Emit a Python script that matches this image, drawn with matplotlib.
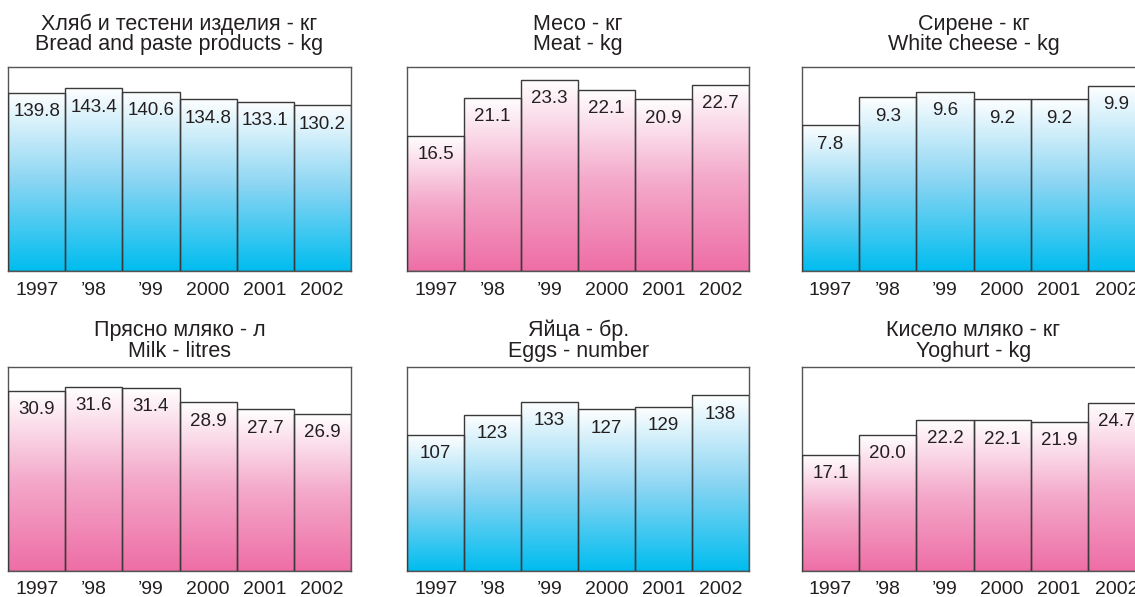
import numpy as np
import matplotlib
matplotlib.use('Agg')
import matplotlib.pyplot as plt
from matplotlib.colors import LinearSegmentedColormap

plt.rcParams['font.family'] = ['Liberation Sans', 'DejaVu Sans']

years = ['1997', '\u201998', '\u201999', '2000', '2001', '2002']

bread = [139.8, 143.4, 140.6, 134.8, 133.1, 130.2]
meat = [16.5, 21.1, 23.3, 22.1, 20.9, 22.7]
cheese = [7.8, 9.3, 9.6, 9.2, 9.2, 9.9]
milk = [30.9, 31.6, 31.4, 28.9, 27.7, 26.9]
eggs = [107, 123, 133, 127, 129, 138]
yoghurt = [17.1, 20.0, 22.2, 22.1, 21.9, 24.7]

titles_bg = ['Хляб и тестени изделия - кг', 'Месо - кг', 'Сирене - кг',
             'Прясно мляко - л', 'Яйца - бр.', 'Кисело мляко - кг']
titles_en = ['Bread and paste products - kg', 'Meat - kg', 'White cheese - kg',
             'Milk - litres', 'Eggs - number', 'Yoghurt - kg']
labels = [['139.8', '143.4', '140.6', '134.8', '133.1', '130.2'],
          ['16.5', '21.1', '23.3', '22.1', '20.9', '22.7'],
          ['7.8', '9.3', '9.6', '9.2', '9.2', '9.9'],
          ['30.9', '31.6', '31.4', '28.9', '27.7', '26.9'],
          ['107', '123', '133', '127', '129', '138'],
          ['17.1', '20.0', '22.2', '22.1', '21.9', '24.7']]

series = [bread, meat, cheese, milk, eggs, yoghurt]
ytops = [160, 24.8, 10.9, 35, 160.6, 30]

blue = LinearSegmentedColormap.from_list('b', ['#00bdef', '#8ad5f3', '#ffffff'])
pink = LinearSegmentedColormap.from_list('p', ['#ee6ea6', '#f4a9ca', '#ffffff'])
cmaps = [blue, pink, blue, pink, blue, pink]

W, H = 1135, 597
fig = plt.figure(figsize=(W / 100, H / 100), dpi=100)

# axes boxes in pixels: left, top, width, height
lefts = [8.3, 407.3, 802.0]
tops = [67.3, 366.7]
widths = [342.4, 341.7, 343.0]
axh = 204.2
title_off = [(26.9, 12.5), (22.0, 7.0)]

grad = np.linspace(0, 1, 256).reshape(-1, 1)

for k in range(6):
    r, c = divmod(k, 3)
    x0, y0 = lefts[c], tops[r]
    ax = fig.add_axes([x0 / W, (H - y0 - axh) / H, widths[c] / W, axh / H])
    vals = series[k]
    x = np.arange(len(vals))
    bars = ax.bar(x, vals, width=1.0, facecolor='none', edgecolor='#3a3a3a',
                  linewidth=1.0, zorder=3)
    for b, v in zip(bars, vals):
        ax.imshow(grad, cmap=cmaps[k], extent=(b.get_x(), b.get_x() + 1, 0, v),
                  aspect='auto', origin='lower', zorder=2, interpolation='bilinear')
    ax.set_xlim(-0.5, len(vals) - 0.5)
    ax.set_ylim(0, ytops[k])
    for xi, v, t in zip(x, vals, labels[k]):
        ax.annotate(t, (xi, v), xytext=(0, -7.5), textcoords='offset points',
                    ha='center', va='top', fontsize=13.5, color='#231f20', zorder=4)
    ax.set_xticks(x)
    ax.set_xticklabels(years, fontsize=14, color='#231f20')
    ax.tick_params(axis='x', length=0, pad=7.5)
    ax.set_yticks([])
    for s in ax.spines.values():
        s.set_color('#555555')
        s.set_linewidth(1.0)
    o1, o2 = title_off[r]
    ax.annotate(titles_bg[k], (0.5, 1), xycoords='axes fraction', xytext=(0, o1),
                textcoords='offset points', ha='center', va='baseline',
                fontsize=15.5, color='#231f20', annotation_clip=False)
    ax.annotate(titles_en[k], (0.5, 1), xycoords='axes fraction', xytext=(0, o2),
                textcoords='offset points', ha='center', va='baseline',
                fontsize=15.5, color='#231f20', annotation_clip=False)

fig.savefig('out.png', dpi=100)
